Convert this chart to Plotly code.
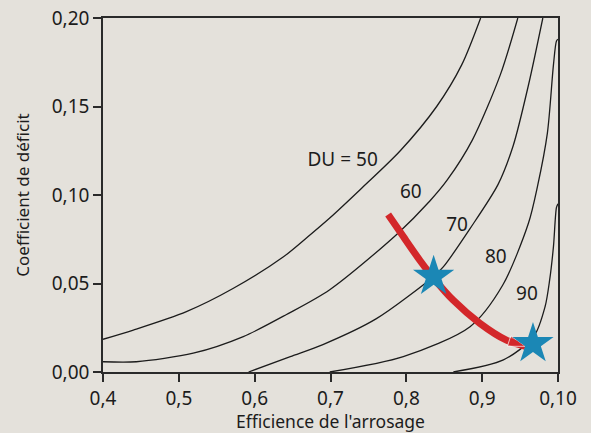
import plotly.graph_objects as go

# --- data ---
du50_x = [0.400, 0.440, 0.510, 0.572, 0.638, 0.669, 0.699, 0.739, 0.792, 0.840, 0.873, 0.898]
du50_y = [0.0185, 0.0237, 0.0341, 0.0473, 0.0651, 0.0760, 0.0870, 0.1030, 0.1250, 0.1500, 0.1735, 0.2000]

du60_x = [0.400, 0.444, 0.519, 0.585, 0.642, 0.699, 0.788, 0.831, 0.854, 0.887, 0.924, 0.947]
du60_y = [0.0058, 0.0058, 0.0106, 0.0200, 0.0325, 0.0465, 0.0780, 0.0966, 0.1085, 0.1310, 0.1680, 0.2000]

du70_x = [0.592, 0.647, 0.690, 0.760, 0.836, 0.849, 0.884, 0.921, 0.941, 0.961, 0.980]
du70_y = [0.0000, 0.0087, 0.0155, 0.0300, 0.0540, 0.0595, 0.0810, 0.1060, 0.1280, 0.1620, 0.2000]

du80_x = [0.699, 0.796, 0.884, 0.927, 0.961, 0.973, 0.986, 0.994, 0.998, 1.000]
du80_y = [0.0000, 0.0087, 0.0256, 0.0490, 0.0840, 0.1050, 0.1350, 0.1735, 0.1870, 0.1880]

du90_x = [0.862, 0.928, 0.968, 0.983, 0.989, 0.994, 0.998, 1.000]
du90_y = [0.0000, 0.0068, 0.0200, 0.0370, 0.0520, 0.0708, 0.0930, 0.0950]

red_x = [0.776, 0.796, 0.818, 0.836, 0.862, 0.897, 0.932, 0.957]
red_y = [0.0890, 0.0765, 0.0630, 0.0530, 0.0405, 0.0275, 0.0180, 0.0145]

star_x = [0.836, 0.967]
star_y = [0.054, 0.016]

label_text = ["DU = 50", "60", "70", "80", "90"]
label_x = [0.716, 0.806, 0.867, 0.918, 0.959]
label_y = [0.1190, 0.1010, 0.0821, 0.0642, 0.0435]

x_tickvals = [0.4, 0.5, 0.6, 0.7, 0.8, 0.9, 1.0]
x_ticktext = ["0,4", "0,5", "0,6", "0,7", "0,8", "0,9", "0,10"]
y_tickvals = [0.0, 0.05, 0.10, 0.15, 0.20]
y_ticktext = ["0,00", "0,05", "0,10", "0,15", "0,20"]

BG = "#e4e1db"
INK = "#1c1c1c"
FONT = "Noto Sans"

fig = go.Figure()

for cx, cy in [(du50_x, du50_y), (du60_x, du60_y), (du70_x, du70_y),
               (du80_x, du80_y), (du90_x, du90_y)]:
    fig.add_trace(go.Scatter(x=cx, y=cy, mode="lines",
                             line=dict(color=INK, width=1.3, shape="spline", smoothing=0.8),
                             hoverinfo="skip", showlegend=False, cliponaxis=True))

# red arrow curve
fig.add_trace(go.Scatter(
    x=red_x, y=red_y, mode="lines+markers",
    line=dict(color="#d3272a", width=7, shape="spline", smoothing=0.8),
    marker=dict(symbol="arrow", angleref="previous",
                size=[0] * (len(red_x) - 1) + [18], color="#d3272a"),
    hoverinfo="skip", showlegend=False))

# stars
fig.add_trace(go.Scatter(
    x=star_x, y=star_y, mode="markers",
    marker=dict(symbol="star", size=31, color="#1b87b5", line=dict(width=0)),
    hoverinfo="skip", showlegend=False, cliponaxis=False))

# curve labels
fig.add_trace(go.Scatter(
    x=label_x, y=label_y, mode="text", text=label_text,
    textfont=dict(family=FONT, size=19, color=INK),
    hoverinfo="skip", showlegend=False))

axis_common = dict(showline=True, linecolor="#2a2a2a", linewidth=1.5, mirror=True,
                   ticks="outside", ticklen=8, tickwidth=1.5, tickcolor="#2a2a2a",
                   showgrid=False, zeroline=False,
                   tickfont=dict(family=FONT, size=19, color=INK))

fig.update_layout(
    width=591, height=433,
    paper_bgcolor=BG, plot_bgcolor=BG,
    margin=dict(l=103, r=33, t=18, b=61),
    font=dict(family=FONT, color=INK),
    hovermode=False,
    xaxis=dict(range=[0.4, 1.0], tickvals=x_tickvals, ticktext=x_ticktext,
               title=dict(text="Efficience de l'arrosage", font=dict(family=FONT, size=17.5, color=INK),
                          standoff=8),
               automargin=False, **axis_common),
    yaxis=dict(range=[0.0, 0.2], tickvals=y_tickvals, ticktext=y_ticktext,
               title=dict(text="Coefficient de déficit", font=dict(family=FONT, size=17, color=INK),
                          standoff=18),
               automargin=False, **axis_common),
)

fig.write_html(
    "out.html",
    config={"displayModeBar": False},
    post_script="document.body.style.margin='0';document.body.style.background='%s';" % BG,
)
